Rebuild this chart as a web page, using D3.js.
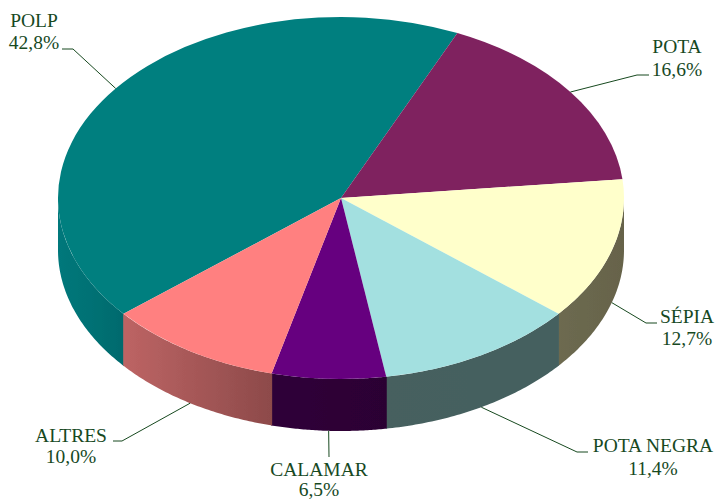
<!DOCTYPE html>
<html><head><meta charset="utf-8">
<script src="https://cdn.jsdelivr.net/npm/d3@7/dist/d3.min.js"></script>
<style>html,body{margin:0;padding:0;background:#fff}svg{display:block}text{font-family:"Liberation Serif",serif;font-size:19.5px;fill:#17491f}</style>
</head><body><svg id="c" width="717" height="500"></svg>
<script>
const categories = ["POLP","POTA","SÉPIA","POTA NEGRA","CALAMAR","ALTRES"];
const values = [42.8,16.6,12.7,11.4,6.5,10.0];
const valueLabels = ["42,8%","16,6%","12,7%","11,4%","6,5%","10,0%"];
const topColors = ["#007f7f","#7f215f","#ffffcb","#a3e0e0","#66007f","#ff8080"];
const wallLeft  = ["#04787b","#7f215f","#6d6a50","#46605f","#2f0039","#bd6464"];
const wallRight = ["#006a6d","#7f215f","#66634a","#44605f","#2c0033","#8d4a4a"];
// label layout: [text centre x, first baseline, second baseline, elbow x, elbow y, end x]
const labelLayout = [
  [34,27,49,73,49,62],[677,53,76,637,75,649],[687,323,345,646,323,657],
  [653,452,475,577,452,588],[319,476,496,329,457,329],[71,442,463,122,441,113]
];
const cx=341, cy=198, rx=283, ry=181, depth=52;
const rad=d=>d*Math.PI/180;
const svg=d3.select("#c");
const startDeg=230.2;
const pie=d3.pie().sort(null).startAngle(rad(startDeg)).endAngle(rad(startDeg+360));
const arcs=pie(values);
const px=a=>cx+rx*Math.sin(a), py=a=>cy-ry*Math.cos(a);
const defs=svg.append("defs");
defs.append("filter").attr("id","soft").attr("x","-5%").attr("y","-5%").attr("width","110%").attr("height","110%")
  .append("feGaussianBlur").attr("stdDeviation",0.45);
const body=svg.append("g").attr("filter","url(#soft)");
const walls=body.append("g");
arcs.forEach((d,i)=>{
  [0,2*Math.PI].forEach(off=>{
    const a0=Math.max(d.startAngle-off,Math.PI/2)-0.002, a1=Math.min(d.endAngle-off,3*Math.PI/2)+0.002;
    if(a1<=a0+0.01) return;
    const steps=d3.range(0,61).map(k=>a0+(a1-a0)*k/60);
    const pts=steps.map(a=>[px(a),py(a)]).concat(steps.slice().reverse().map(a=>[px(a),py(a)+depth]));
    const id="g"+i;
    const xs=pts.map(p=>p[0]);
    const g=defs.append("linearGradient").attr("id",id).attr("gradientUnits","userSpaceOnUse")
      .attr("x1",d3.min(xs)).attr("x2",d3.max(xs)).attr("y1",0).attr("y2",0);
    g.append("stop").attr("offset",0).attr("stop-color",wallLeft[i]);
    g.append("stop").attr("offset",1).attr("stop-color",wallRight[i]);
    walls.append("path").attr("d",d3.line()(pts)+"Z").attr("fill",`url(#${id})`);
  });
});
const arc=d3.arc().innerRadius(0).outerRadius(rx);
body.append("g").attr("transform",`translate(${cx},${cy}) scale(1,${ry/rx})`)
  .selectAll("path").data(arcs).join("path").attr("d",arc).attr("fill",(d,i)=>topColors[i]);
const lab=svg.append("g");
arcs.forEach((d,i)=>{
  const m=(d.startAngle+d.endAngle)/2, L=labelLayout[i];
  const front=Math.cos(m)<0;
  const ax=px(m), ay=py(m)+(front?depth:0);
  lab.append("path").attr("d",d3.line()([[L[5],L[4]],[L[3],L[4]],[ax,ay]]))
    .attr("fill","none").attr("stroke","#17491f").attr("stroke-width",1);
  lab.append("text").attr("x",L[0]).attr("y",L[1]).attr("text-anchor","middle").text(categories[i]);
  lab.append("text").attr("x",L[0]).attr("y",L[2]).attr("text-anchor","middle").text(valueLabels[i]);
});
</script></body></html>
